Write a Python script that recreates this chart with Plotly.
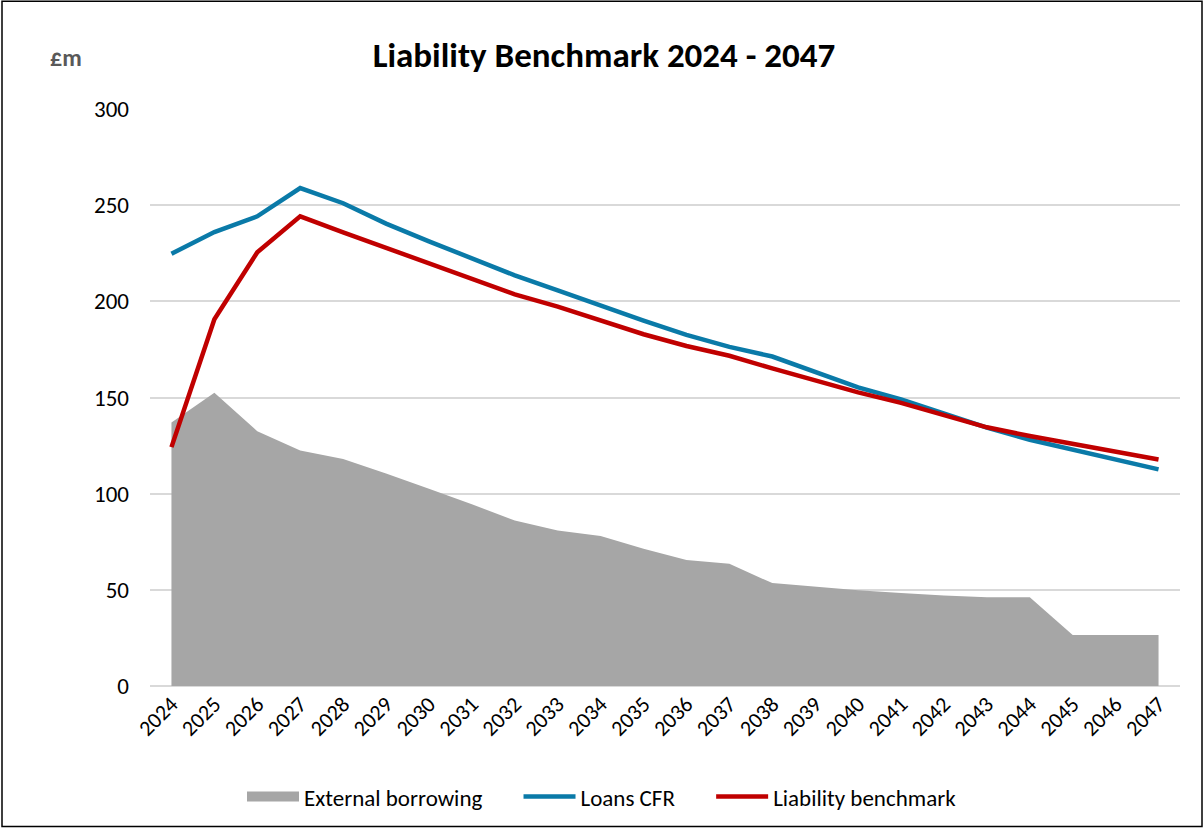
import plotly.graph_objects as go

years = [str(y) for y in range(2024, 2048)]
external_borrowing = [137, 152.5, 132.5, 122.5, 118, 110.5, 102.5, 94.5, 86, 80.8, 78, 71.4, 65.5, 63.5, 53.5, 51.6, 49.8, 48.3, 47, 46.2, 46.2, 26.5, 26.5, 26.5]
loans_cfr = [224.7, 236, 244.2, 258.9, 251, 240.4, 231.2, 222.3, 213.5, 205.7, 197.6, 190, 182.6, 176.3, 171.3, 163, 155.3, 149, 141.5, 134.3, 128, 123, 117.8, 112.6]
liability_benchmark = [124.2, 190.7, 225.5, 244.2, 235.9, 227.8, 219.7, 211.4, 203.6, 197.3, 189.8, 182.9, 176.8, 171.7, 165.1, 158.7, 152.7, 147.2, 141, 134.5, 130, 125.9, 121.9, 117.8]
y_ticks = [0, 50, 100, 150, 200, 250, 300]

FONT = "Carlito, Liberation Sans Narrow, Lato, Noto Sans, sans-serif"
GAP = "\u00a0" * 6

fig = go.Figure()
fig.add_trace(go.Scatter(x=years, y=external_borrowing, name="External borrowing",
                         mode="lines", line=dict(width=0, color="#a6a6a6"),
                         fill="tozeroy", fillcolor="#a6a6a6", showlegend=False,
                         legendgroup="ext"))
# legend entry for the area (box-like swatch)
fig.add_trace(go.Scatter(x=[None], y=[None], name="External borrowing" + GAP, mode="lines",
                         line=dict(width=13, color="#a6a6a6"), legendgroup="ext"))
fig.add_trace(go.Scatter(x=years, y=loans_cfr, name="Loans CFR" + GAP, mode="lines",
                         line=dict(color="#0a7aa8", width=4.5)))
fig.add_trace(go.Scatter(x=years, y=liability_benchmark, name="Liability benchmark", mode="lines",
                         line=dict(color="#c00000", width=4.5)))

L, R, T, B = 150, 24, 109, 142
W, H = 1204, 830
pw, ph = W - L - R, H - T - B

fig.update_layout(
    width=W, height=H,
    margin=dict(l=L, r=R, t=T, b=B),
    paper_bgcolor="white", plot_bgcolor="white",
    font=dict(family=FONT, size=22, color="#000000"),
    title=dict(text="<b>Liability Benchmark 2024 - 2047</b>", x=604 / W, xanchor="center",
               y=1 - 55 / H, yanchor="middle", font=dict(size=35, family=FONT, color="#000000")),
    showlegend=True,
    legend=dict(orientation="h", x=(242 - L) / pw, xref="paper", xanchor="left",
                y=(688 - 799) / ph, yanchor="middle", font=dict(size=23, family=FONT),
                itemwidth=52, traceorder="normal"),
    annotations=[dict(text="<b>£m</b>", x=(66 - L) / pw, y=(688 - 57) / ph, xref="paper", yref="paper",
                      showarrow=False, font=dict(size=24, color="#595959", family=FONT),
                      xanchor="center", yanchor="middle")],
    shapes=[dict(type="rect", xref="paper", yref="paper",
                 x0=(2 - L) / pw, x1=(1202 - L) / pw, y0=(688 - 829) / ph, y1=(688 - 1) / ph,
                 line=dict(color="#000000", width=1.5), fillcolor="rgba(0,0,0,0)", layer="below")],
)
fig.update_xaxes(type="category", range=[-0.5, 23.5], tickangle=-45, showgrid=False,
                 showline=False, ticks="", tickfont=dict(size=22, family=FONT), zeroline=False)
fig.update_yaxes(range=[0, 300], tickvals=y_ticks, showgrid=True, gridcolor="#d9d9d9", gridwidth=1.5,
                 zeroline=True, zerolinecolor="#d9d9d9", zerolinewidth=1.5, showline=False, ticks="",
                 ticklabelstandoff=20, tickfont=dict(size=23, family=FONT))

fig.write_html("out.html", config={"displayModeBar": False},
               post_script="document.body.style.margin='0';document.body.style.padding='0';")
